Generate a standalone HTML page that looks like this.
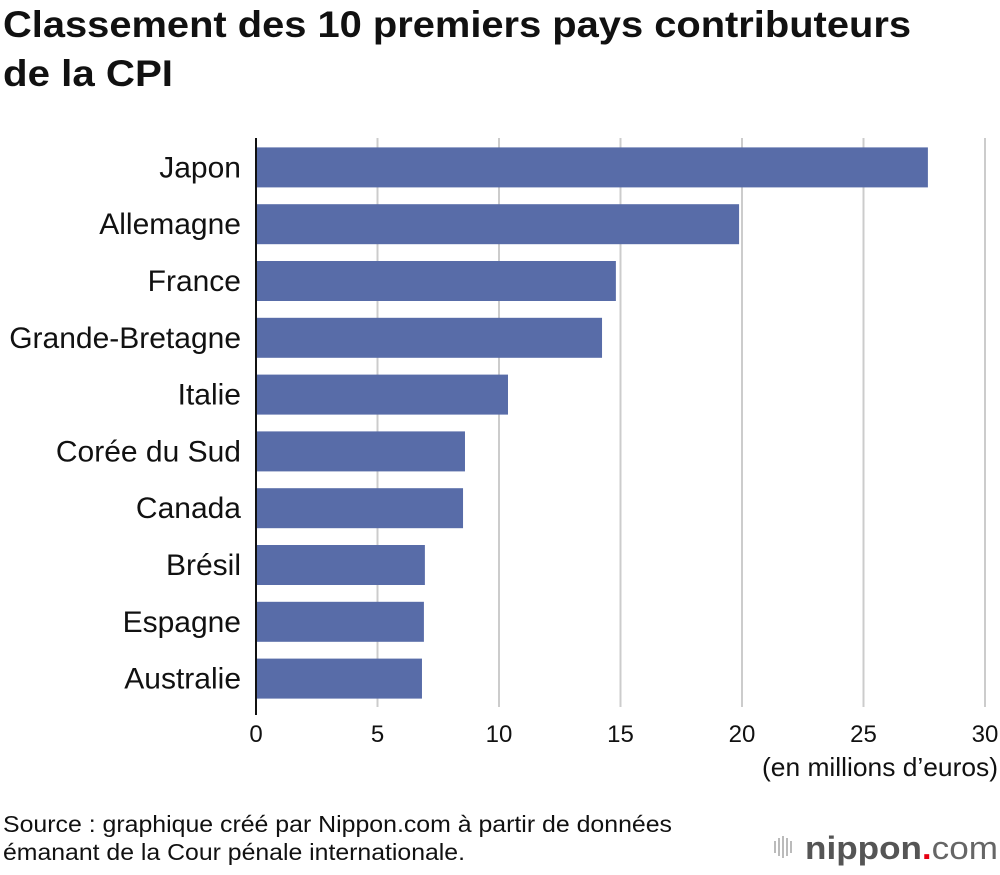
<!DOCTYPE html>
<html><head><meta charset="utf-8"><style>
body{margin:0;background:#fff;width:1000px;height:870px;overflow:hidden;font-family:"Liberation Sans",sans-serif;}
svg text{font-family:"Liberation Sans",sans-serif;}
</style></head><body>
<svg id="chart" width="1000" height="870">
<text x="3" y="37" font-size="37" font-weight="bold" fill="#111" textLength="908" lengthAdjust="spacingAndGlyphs">Classement des 10 premiers pays contributeurs</text>
<text x="3" y="86" font-size="37" font-weight="bold" fill="#111" textLength="170" lengthAdjust="spacingAndGlyphs">de la CPI</text>
<g id="grid"></g><g id="bars"></g><g id="labels"></g>
<text x="998" y="776" font-size="26" text-anchor="end" fill="#111" textLength="236" lengthAdjust="spacingAndGlyphs">(en millions d’euros)</text>
<text x="3" y="832" font-size="23" fill="#111" textLength="669" lengthAdjust="spacingAndGlyphs">Source : graphique créé par Nippon.com à partir de données</text>
<text x="3" y="860" font-size="23" fill="#111" textLength="462" lengthAdjust="spacingAndGlyphs">émanant de la Cour pénale internationale.</text>
<g>
<g fill="#bbb"><rect x="774" y="841" width="2" height="12"/><rect x="778" y="838" width="2" height="18"/><rect x="782" y="836" width="2" height="22"/><rect x="786" y="838" width="2" height="18"/><rect x="790" y="841" width="2" height="12"/></g>
<text x="805" y="859" font-size="32" font-weight="bold" fill="#555" textLength="193" lengthAdjust="spacingAndGlyphs">nippon<tspan fill="#e60012">.</tspan><tspan font-weight="normal" fill="#666">com</tspan></text>
</g>
</svg>
<script>
const categories=["Japon","Allemagne","France","Grande-Bretagne","Italie","Corée du Sud","Canada","Brésil","Espagne","Australie"];
const values=[27.65,19.88,14.81,14.24,10.37,8.6,8.52,6.95,6.91,6.83];
const ticks=[0,5,10,15,20,25,30];
const NS="http://www.w3.org/2000/svg";
const X0=256,X1=985,MAXV=30,PTOP=139,PBOT=707;
const xs=v=>X0+(X1-X0)*v/MAXV;
const band=(PBOT-PTOP)/categories.length;
function mk(t,a,p){const e=document.createElementNS(NS,t);for(const k in a)e.setAttribute(k,a[k]);p.appendChild(e);return e;}
const grid=document.getElementById('grid'),bars=document.getElementById('bars'),labels=document.getElementById('labels');
ticks.forEach(t=>{
 if(t>0){const l=mk('line',{x1:xs(t),x2:xs(t),y1:PTOP-1,y2:PBOT,stroke:'#ccc','stroke-width':2},grid);
 
 }
 const tx=mk('text',{x:xs(t),y:742,'font-size':24,'text-anchor':'middle',fill:'#111'},labels);
 tx.textContent=t;
 
 
});
categories.forEach((c,i)=>{
 const yc=PTOP+band*(i+0.5);
 const r=mk('rect',{x:X0,y:yc-20,width:xs(values[i])-X0,height:40,fill:'#586ca8'},bars);
 
 
 const t=mk('text',{x:241,y:yc+10,'font-size':30,'text-anchor':'end',fill:'#111'},labels);
 t.textContent=c;
 
 
});
const ax=mk('line',{x1:X0,x2:X0,y1:PTOP-1,y2:PBOT+8,stroke:'#111','stroke-width':2},labels);


</script>
</body></html>
